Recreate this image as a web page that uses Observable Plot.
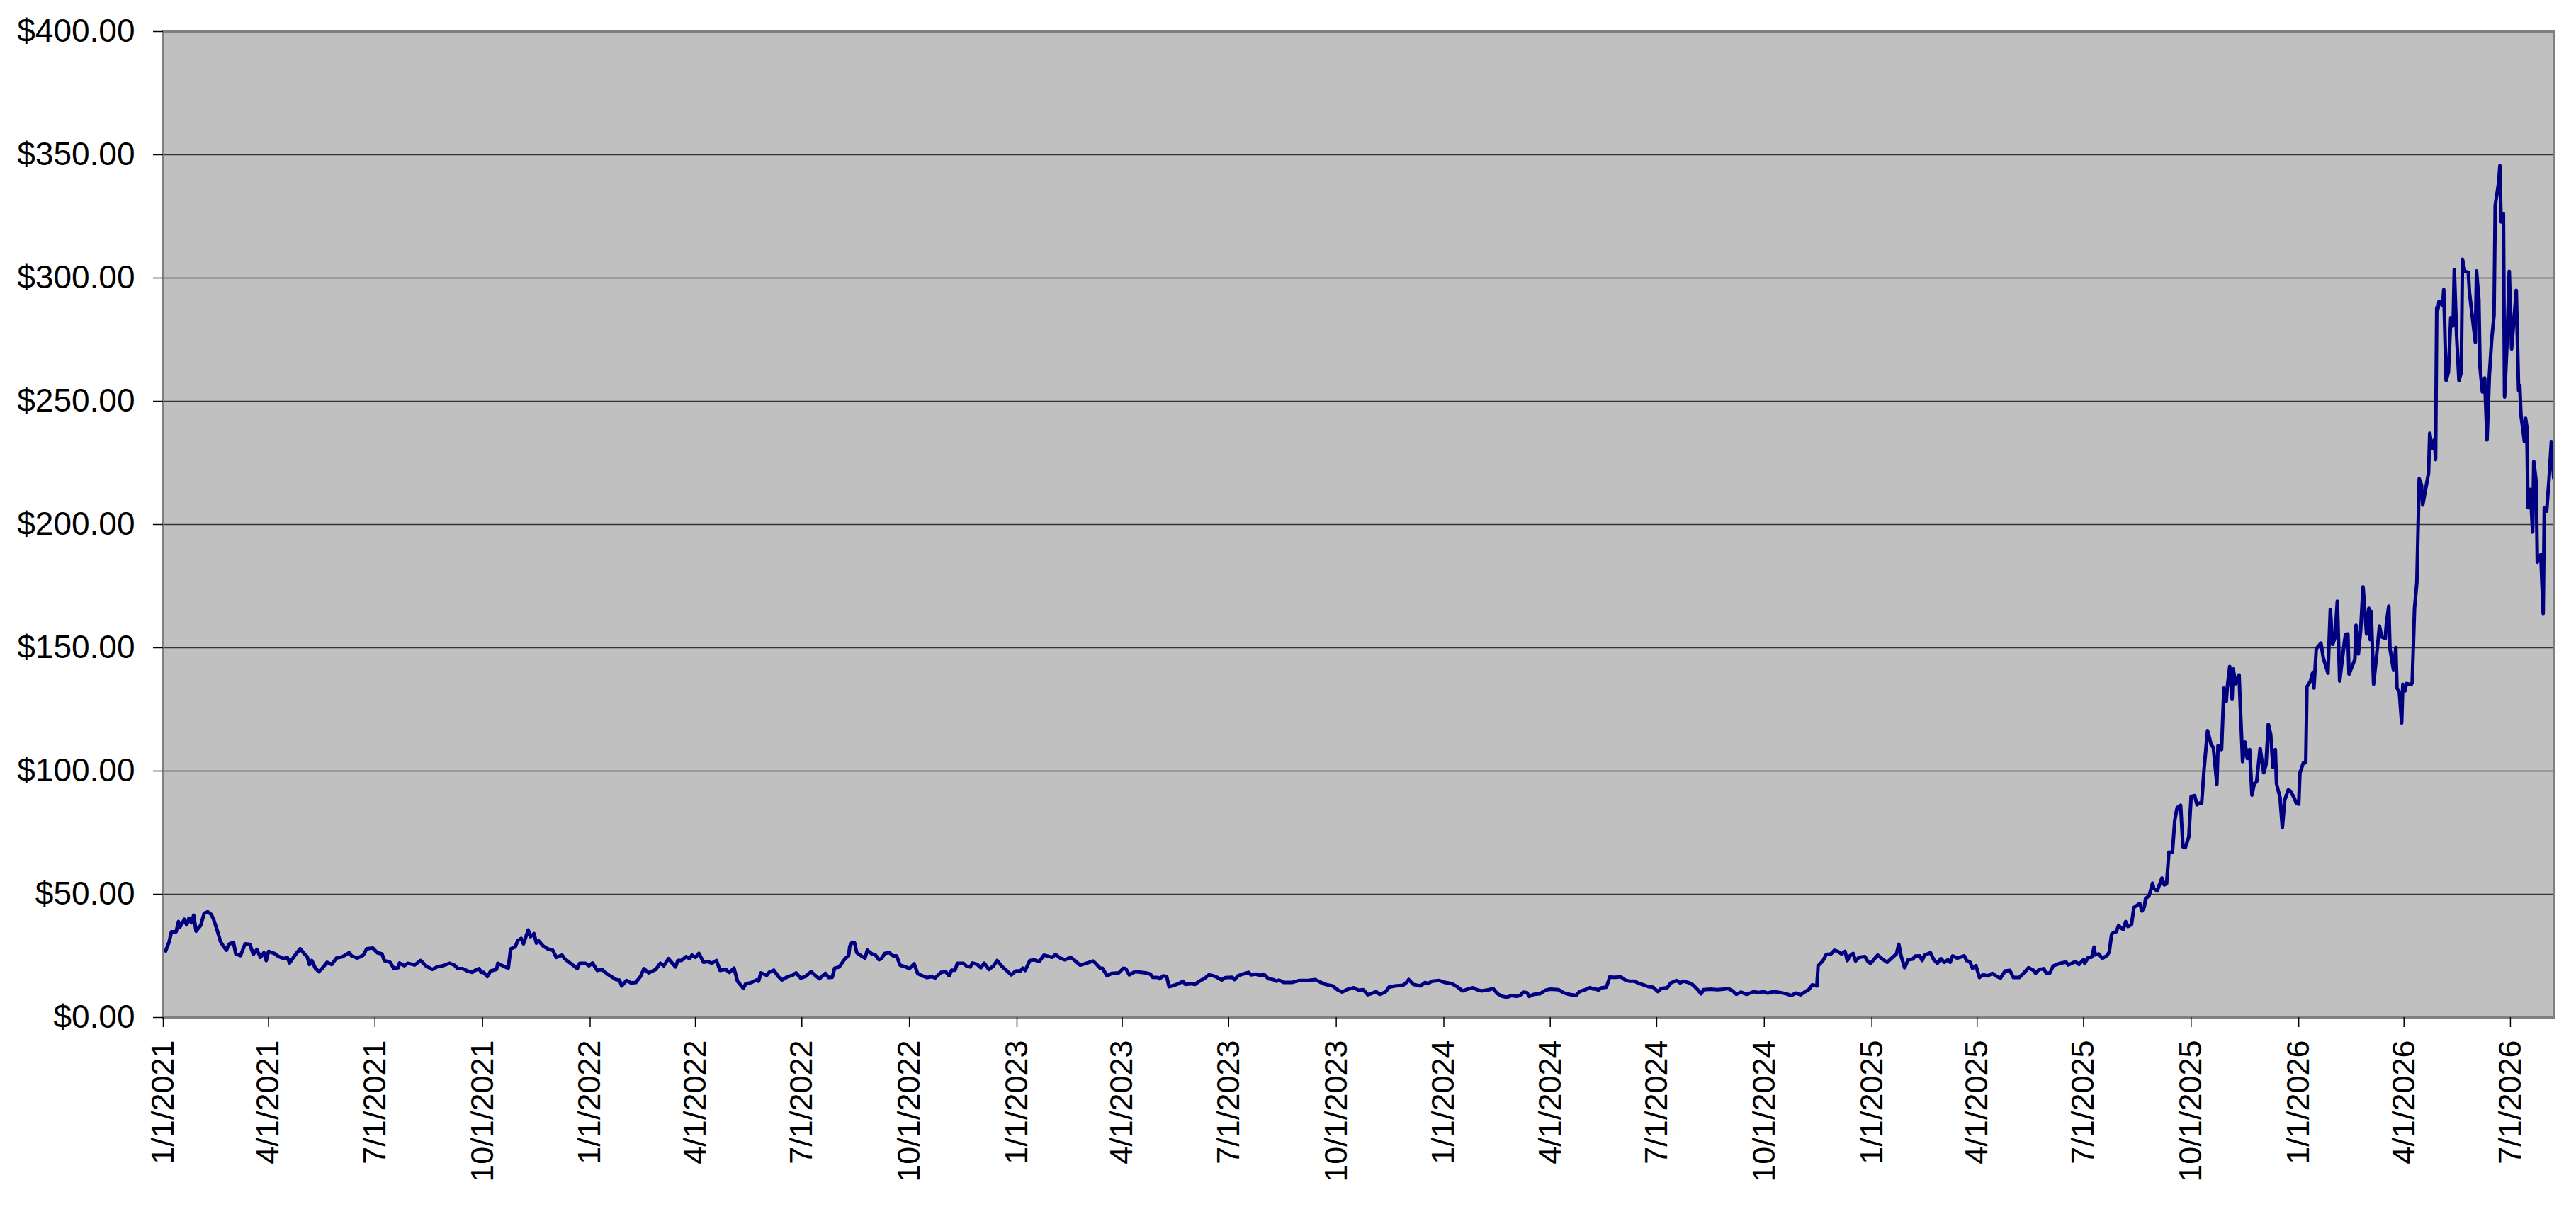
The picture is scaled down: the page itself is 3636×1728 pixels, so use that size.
<!DOCTYPE html>
<html>
<head>
<meta charset="utf-8">
<script src="https://cdn.jsdelivr.net/npm/d3@7"></script>
<script src="https://cdn.jsdelivr.net/npm/@observablehq/plot@0.6"></script>
<style>
  html, body { margin: 0; padding: 0; background: #ffffff; overflow: hidden; }
  #chart svg { display: block; }
</style>
</head>
<body>
<div id="chart"></div>
<script>
// Dates are stored as day offsets from 1/1/2021 (like spreadsheet serial dates)
const startDate = "2021-01-01";

const daysA = [2,5,7,11,13,14,18,20,22,24,26,28,32,35,38,41,43,46,49,51,54,56,60,62,66,70,74,77,80,83,86,88,90,95,98,103,106,108,112,117,121,123,125,127,130,133,136,140,144,148,153,159,161,166,171,174,179,183,187,189,194,197,201,202,206,209,215,220,225,230,234,239,245,249,252,256,260,264,267,270,272,274,277,280,285,286,291,295,297,301,303,306,308,312,314,317,319,321,325,329,333,336,341,343,347,351,354,356,361,364,367,371,375,379,383,387,390,392,396,400,404,408,411,415];
const pricesA = [27.0,30.7,34.8,34.8,38.9,36.5,39.8,37.6,40.3,38.4,41.5,35.0,37.4,42.3,42.9,41.8,39.8,35.5,30.7,29.2,27.3,29.7,30.5,25.8,25.1,29.9,29.7,25.6,27.6,24.4,26.3,23.1,26.8,26.0,24.9,23.9,24.4,22.1,24.9,27.9,25.6,24.7,21.5,23.1,20.0,18.6,20.0,22.4,21.5,24.1,24.6,26.3,25.0,24.1,25.3,27.9,28.2,26.3,25.8,23.1,22.4,20.0,20.2,22.1,21.0,22.0,21.3,23.1,20.8,19.5,20.5,21.0,22.0,21.2,19.8,19.8,18.9,18.3,19.2,19.8,18.3,18.3,16.6,18.9,19.5,22.0,20.8,20.0,27.8,28.7,31.1,32.1,29.9,35.5,32.8,34.0,30.2,31.1,28.9,27.8,27.3,24.4,25.3,23.9,22.4,21.0,19.8,22.0,22.0,21.0,22.1,19.1,19.5,17.9,16.6,15.4,15.2,12.8,15.0,14.0,14.2,16.6,19.8,18.1];

const daysB = [421,425,428,432,434,438,440,443,447,450,452,455,458,462,466,469,473,476,481,484,488,491,496,498,503,507,509,511,516,518,522,526,529,534,538,541,545,549,554,557,561,566,569,572,574,578,583,586,587,589,591,593,597,600,602,606,609,612,614,617,621,624,627,630,635,638,642,645,649,653,657,660,665,669,672,674,677,679,684,687,690,692,696,699,702,706,710,713,717,721,725,729,733,735,737,741,745,749,753,757,760,763,767,771,776,780,784,788,795,797,801,803,807,811,817];
const pricesB = [19.5,22.0,21.0,23.9,22.7,20.5,23.1,23.1,24.7,23.9,25.3,24.4,26.0,22.4,22.7,22.0,23.1,19.1,19.5,18.3,20.0,14.7,11.8,13.7,14.2,15.2,14.7,18.1,17.1,18.3,19.2,16.6,15.2,16.6,17.1,18.1,16.0,16.6,18.6,17.3,15.7,17.9,16.2,16.3,20.0,20.5,23.9,25.0,28.9,30.5,30.4,26.3,24.9,24.1,27.3,25.8,25.3,23.4,23.9,26.0,26.3,25.0,25.0,21.2,20.5,19.8,21.8,17.9,16.9,16.2,16.6,16.0,18.3,18.6,16.9,19.2,19.2,22.0,22.0,20.8,20.5,22.1,21.5,20.2,22.0,19.5,21.0,23.1,20.8,19.1,17.3,18.9,18.9,20.0,19.1,23.1,23.4,22.7,25.3,24.8,24.4,25.6,24.1,23.4,24.4,22.9,21.2,21.8,22.9,22.1,20.0,20.0,16.9,17.9,18.1];

const daysC = [821,823,826,831,836,840,844,846,851,852,855,858,860,865,868,872,874,879,882,885,887,890,894,898,901,905,908,914,916,919,923,928,930,934,938,941,945,949,952,954,958,965,971,979,985,989,994,1000,1004,1008,1012,1018,1022,1026,1030,1034,1037,1040,1045,1048,1053,1060,1063,1065,1069,1075,1079,1081,1085,1091,1096,1102,1107,1111,1115,1120,1123,1127,1131,1134,1137,1141,1145,1149,1153,1157,1160,1163,1166,1168,1172,1177,1182,1186,1193,1197,1202,1208,1211,1216,1220,1223];
const pricesC = [20.0,19.8,17.3,18.6,18.3,18.1,17.6,16.3,16.2,15.7,16.9,16.6,12.5,13.2,13.7,14.7,13.4,13.7,13.4,14.4,15.0,15.7,17.3,16.9,16.3,15.2,16.2,16.3,15.4,16.9,17.6,18.3,17.3,17.6,17.1,17.6,15.7,15.4,14.7,15.2,14.2,14.2,15.0,15.0,15.4,14.4,13.4,12.8,11.3,10.3,11.3,12.1,11.1,11.3,9.2,9.9,10.5,9.4,10.3,12.3,12.8,13.1,14.2,15.4,13.4,12.8,14.2,13.7,14.7,15.0,14.2,13.7,12.3,10.8,11.5,12.1,11.3,10.8,11.1,11.3,11.8,9.6,8.6,8.2,8.9,8.6,8.9,10.3,10.1,8.6,9.4,9.6,11.1,11.5,11.3,10.1,9.4,8.9,10.5,11.3,12.1,11.5];

const daysD = [1224,1227,1230,1234,1237,1239,1243,1246,1250,1254,1258,1261,1266,1270,1274,1278,1281,1286,1289,1294,1297,1300,1304,1308,1312,1315,1317,1323,1329,1334,1338,1342,1345,1349,1354,1360,1364,1368,1372,1377,1383,1388,1392,1396,1400,1404,1407,1410,1414,1415,1419,1422,1426,1429,1432,1435,1438,1440,1442,1445,1447,1450,1455,1458,1460,1463,1466,1470,1474,1478,1482,1484,1486,1489,1492,1496,1498,1502,1504,1506,1511,1514,1517,1520,1523,1526,1528,1530,1534,1536,1540,1542,1545,1547,1550,1553,1556,1560,1564,1568,1571,1575,1579,1582,1587,1591,1595,1599,1601,1604,1608,1610,1613];
const pricesD = [11.8,11.1,12.1,12.3,16.6,16.3,16.3,16.6,15.2,14.7,14.7,14.0,13.2,12.5,12.3,10.5,11.8,12.1,14.0,15.0,14.0,14.7,14.2,13.2,11.3,9.6,11.3,11.5,11.3,11.5,11.8,10.8,9.4,10.3,9.4,10.5,10.1,10.5,9.9,10.5,10.1,9.6,8.9,9.9,9.2,10.5,11.3,13.2,12.8,21.0,22.9,25.6,25.8,27.3,26.8,25.8,26.8,23.1,24.9,26.0,22.9,24.4,24.7,22.4,22.0,23.7,25.3,23.7,22.4,24.1,25.8,29.7,24.9,20.2,23.4,23.7,24.9,25.0,23.1,25.3,26.3,23.4,22.0,23.9,22.4,23.4,22.4,25.0,24.1,24.4,25.0,23.1,22.4,20.0,21.0,16.2,17.3,16.9,17.9,16.6,16.0,18.9,19.1,16.2,16.2,18.1,20.2,19.2,17.9,19.5,19.8,18.1,17.9];

const daysE = [1616,1622,1627,1629,1635,1638,1642,1643,1646,1649,1651,1652,1655,1658,1662,1664,1666,1668,1670,1672,1674,1676,1678,1680,1683,1685,1688,1690,1692,1694,1695,1698,1699,1701,1702,1705,1709,1711,1713,1715,1718,1720,1722,1725,1727,1729,1732,1734,1737,1739,1741,1743,1745,1748,1749,1751,1753,1756,1757,1760,1762,1764,1765,1767,1769,1770,1772,1775,1776,1778,1780,1782,1784,1786,1788,1790,1793,1796,1798,1800,1802,1804,1806,1807,1810,1812,1814,1817,1819,1822];
const pricesE = [20.9,22.0,22.5,21.3,22.7,21.5,23.5,22.0,24.3,24.5,28.6,25.4,25.8,24.0,25.1,26.6,33.8,34.6,34.8,37.4,36.3,35.8,38.9,36.9,37.7,44.6,45.6,46.3,43.2,44.9,48.2,49.4,51.0,54.5,52.3,51.4,56.6,53.8,54.3,67.1,67.1,80.0,85.1,86.1,69.2,68.9,73.3,89.7,90.0,86.3,87.0,87.0,100.5,116.4,114.8,110.8,109.5,94.6,110.3,108.7,133.6,128.2,134.4,142.4,129.3,141.4,135.4,139.0,126.7,103.8,111.8,105.1,108.7,90.2,94.9,95.6,109.2,99.3,102.6,119.0,114.9,101.5,108.7,94.9,89.2,77.1,88.2,92.3,91.8,89.2];

const daysF = [1824,1826,1827,1830,1832,1833,1836,1838,1839,1841,1845,1847,1851,1853,1855,1857,1859,1861,1865,1866,1868,1869,1874,1875,1877,1879,1881,1884,1886,1887,1888,1890,1893,1895,1897,1900,1901,1903,1904,1907,1909,1910,1912,1914,1915,1917,1918,1922,1923,1925,1927];
const pricesF = [86.9,86.6,99.2,103.4,103.4,134.2,136.5,140.0,133.7,149.6,151.9,145.9,139.7,165.5,151.4,154.1,168.9,136.5,152.2,155.4,155.6,139.3,145.3,159.1,147.5,157.5,174.7,155.6,166.0,153.3,164.8,135.2,149.0,158.8,154.4,153.8,160.2,166.9,149.6,141.1,150.1,133.7,132.1,119.5,135.2,132.6,135.5,135.0,135.8,166.0,176.6];

const daysG = [1929,1931,1932,1937,1938,1940,1942,1943,1944,1945,1946,1949,1950,1952,1954,1956,1958,1959,1961,1963,1965,1966,1968,1971,1972,1977,1978,1980,1981,1983,1985,1987,1989,1991,1993,1994,1997,1998,1999,2001,2002,2004,2006,2008,2012,2014,2015,2016,2019,2020,2021,2022,2024,2026,2027,2029,2030,2033,2035,2036,2038,2040,2042,2044];
const pricesG = [218.6,215.9,207.9,220.9,237.0,231.0,234.3,226.3,287.9,287.3,290.6,288.9,295.3,258.4,261.8,283.9,280.6,303.4,276.5,258.4,261.8,307.6,302.7,302.3,294.0,273.9,302.9,291.3,263.8,253.8,259.4,234.3,260.5,275.2,284.9,329.5,338.9,345.6,322.8,326.1,251.7,272.5,302.7,271.2,295.0,254.4,256.4,244.4,233.6,243.0,239.7,206.8,214.2,196.9,225.6,217.3,184.7,187.8,163.9,206.8,205.5,218.2,233.6,218.9];

const yTickValues = [0, 50, 100, 150, 200, 250, 300, 350, 400];
const yTickLabels = ["$0.00", "$50.00", "$100.00", "$150.00", "$200.00", "$250.00", "$300.00", "$350.00", "$400.00"];

const xTickLabels = [
  "1/1/2021", "4/1/2021", "7/1/2021", "10/1/2021",
  "1/1/2022", "4/1/2022", "7/1/2022", "10/1/2022",
  "1/1/2023", "4/1/2023", "7/1/2023", "10/1/2023",
  "1/1/2024", "4/1/2024", "7/1/2024", "10/1/2024",
  "1/1/2025", "4/1/2025", "7/1/2025", "10/1/2025",
  "1/1/2026", "4/1/2026", "7/1/2026"
];

// ---- build table ----
const start = new Date(startDate + "T00:00:00Z").getTime();
const toDate = d => new Date(start + d * 864e5);
const segments = [[daysA, pricesA], [daysB, pricesB], [daysC, pricesC], [daysD, pricesD], [daysE, pricesE], [daysF, pricesF], [daysG, pricesG]];
const rows = [];
for (const [ds, ps] of segments) {
  const n = Math.min(ds.length, ps.length);
  for (let i = 0; i < n; i++) rows.push({date: toDate(ds[i]), price: ps[i]});
}
const parseLabel = s => { const [m, d, y] = s.split("/").map(Number); return new Date(Date.UTC(y, m - 1, d)); };
const xTicks = xTickLabels.map(parseLabel);
const labelByTime = new Map(xTicks.map((t, i) => [+t, xTickLabels[i]]));
const yLabelByValue = new Map(yTickValues.map((v, i) => [v, yTickLabels[i]]));

const W = 3636, H = 1728;
const chart = Plot.plot({
  width: W,
  height: H,
  marginLeft: 230,
  marginRight: 32,
  marginTop: 44,
  marginBottom: 292,
  style: {fontFamily: "'Liberation Sans', Arial, Helvetica, sans-serif", fontSize: "45px", color: "#000", background: "#ffffff", maxWidth: "none"},
  x: {type: "utc", domain: [toDate(0), rows[rows.length - 1].date], axis: null},
  y: {domain: [0, 400], axis: null},
  marks: [
    Plot.frame({fill: "#C0C0C0", stroke: null}),
    Plot.ruleY(yTickValues.filter(v => v > 0 && v < 400), {stroke: "#333333", strokeWidth: 1.5}),
    Plot.line(rows, {x: "date", y: "price", stroke: "#000080", strokeWidth: 5, strokeLinejoin: "round"}),
    Plot.frame({stroke: "#808080", strokeWidth: 3}),
    Plot.axisY(yTickValues, {
      label: null, tickSize: 14, tickPadding: 26, fontSize: 46, color: "#000", strokeWidth: 1.5,
      tickFormat: v => yLabelByValue.get(v)
    }),
    Plot.axisX(xTicks, {
      label: null, tickSize: 14, tickPadding: 18, tickRotate: -90, fontSize: 45, color: "#000", strokeWidth: 1.5,
      tickFormat: d => labelByTime.get(+d)
    })
  ]
});
document.getElementById("chart").appendChild(chart);
</script>
</body>
</html>
